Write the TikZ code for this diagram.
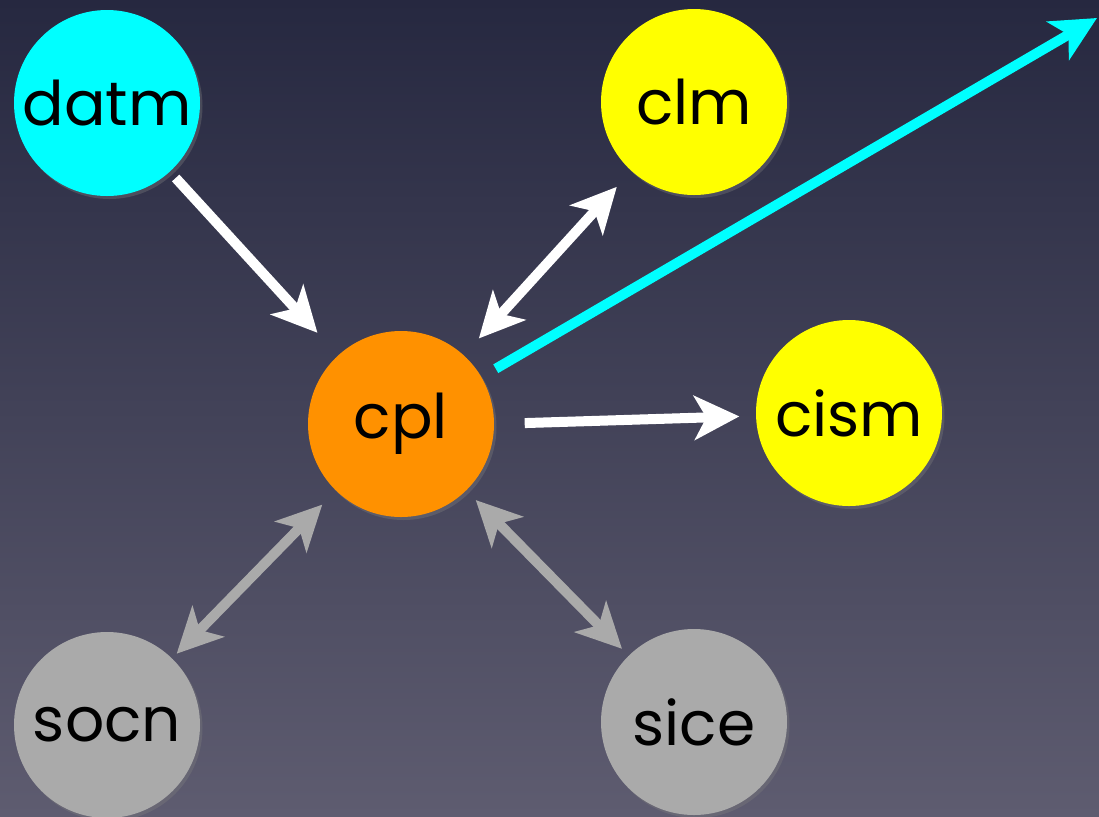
\documentclass[tikz,border=0pt]{standalone}
\usepackage{fontspec}
\setmainfont{Poppins}
\usetikzlibrary{arrows.meta,shadows}
\definecolor{bgtop}{HTML}{262840}
\definecolor{bgbottom}{HTML}{5E5C70}
\definecolor{atmcyan}{HTML}{00FFFF}
\definecolor{lndyellow}{HTML}{FFFF00}
\definecolor{cplorange}{HTML}{FF9100}
\definecolor{icegray}{HTML}{AAAAAA}
\begin{document}
\begin{tikzpicture}[
  comp/.style={circle, minimum size=1.86cm, inner sep=0pt, font=\fontsize{17.5}{20}\selectfont,
    drop shadow={shadow xshift=0.025cm, shadow yshift=-0.03cm, opacity=0.35}},
  flow/.style={line width=0.1cm, -{Stealth[length=0.45cm, width=0.44cm, inset=0.12cm]}},
  both/.style={line width=0.1cm, {Stealth[length=0.45cm, width=0.44cm, inset=0.12cm]}-{Stealth[length=0.45cm, width=0.44cm, inset=0.12cm]}}
]
% Background
\shade[top color=bgtop, bottom color=bgbottom] (0,0) rectangle (10.99,-8.16);
\useasboundingbox (0,0) rectangle (10.99,-8.16);

% Components
\node[comp, fill=atmcyan] (datm) at (1.07,-1.03) {datm};
\node[comp, fill=lndyellow] (clm) at (6.94,-1.02) {clm};
\node[comp, fill=cplorange] (cpl) at (4.01,-4.24) {cpl};
\node[comp, fill=lndyellow] (cism) at (8.49,-4.13) {cism};
\node[comp, fill=icegray] (socn) at (1.07,-7.25) {socn};
\node[comp, fill=icegray] (sice) at (6.94,-7.22) {sice};
\coordinate (out) at (10.97,-0.18);

% Coupler connections
\draw[flow, white, shorten <=0.08cm, shorten >=0.3cm] (datm) -- (cpl);
\draw[both, white, shorten <=0.21cm, shorten >=0.22cm] (clm) -- (cpl);
\draw[flow, white, shorten <=0.3cm, shorten >=0.16cm] (cpl.east) -- (cism);
\draw[flow, atmcyan, shorten <=0.16cm] (cpl) -- (out);
\draw[both, icegray, shorten <=0.19cm, shorten >=0.06cm] (cpl) -- (socn);
\draw[both, icegray, shorten <=0.13cm, shorten >=0.09cm] (cpl) -- (sice);
\end{tikzpicture}
\end{document}
